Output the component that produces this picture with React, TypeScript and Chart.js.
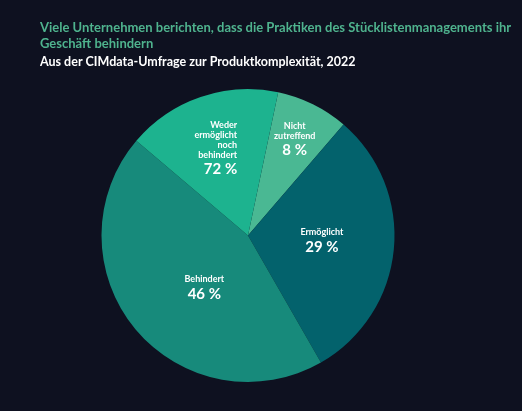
import React, { useEffect, useRef } from "react";
import { Chart, registerables } from "chart.js";

Chart.register(...registerables);

const categories = ["Nicht zutreffend", "Ermöglicht", "Behindert", "Weder ermöglicht noch behindert"];
const values = [8, 30.4, 44.5, 17.1];
const labelLines = [["Nicht", "zutreffend"], ["Ermöglicht"], ["Behindert"], ["Weder", "ermöglicht", "noch", "behindert"]];
const percentTexts = ["8 %", "29 %", "46 %", "72 %"];
const titleLines = [
  "Viele Unternehmen berichten, dass die Praktiken des Stücklistenmanagements ihr",
  "Geschäft behindern",
];
const subtitleText = "Aus der CIMdata-Umfrage zur Produktkomplexität, 2022";

const colors = ["#4ab893", "#03626c", "#178a7b", "#1db38f"];
const labelPlacement = [
  { f: 0.75, dx: -2, dy: 1, align: "center" },
  { f: 0.5, dx: 1, dy: -3, align: "center" },
  { f: 0.45, dx: 7, dy: 9, align: "center" },
  { f: 0.65, dx: 20, dy: 2, align: "right" },
];
const FONT = "Lato, 'Noto Sans', sans-serif";

const sliceLabels = {
  id: "sliceLabels",
  afterDatasetsDraw(chart: any) {
    const ctx = chart.ctx;
    const meta = chart.getDatasetMeta(0);
    meta.data.forEach((arc: any, i: number) => {
      const { x, y, startAngle, endAngle, outerRadius } = arc.getProps(
        ["x", "y", "startAngle", "endAngle", "outerRadius"],
        true
      );
      const p = labelPlacement[i];
      const mid = (startAngle + endAngle) / 2;
      const cx = x + Math.cos(mid) * outerRadius * p.f + p.dx;
      const cy = y + Math.sin(mid) * outerRadius * p.f + p.dy;
      const lines = labelLines[i];
      const span = (lines.length - 1) * 10 + 14.5;
      const ly = cy - span / 2;
      ctx.save();
      ctx.fillStyle = "#ffffff";
      ctx.textAlign = p.align as CanvasTextAlign;
      ctx.textBaseline = "middle";
      ctx.font = `bold 9px ${FONT}`;
      lines.forEach((t, k) => {
        ctx.fillText(t, cx, ly + k * 10);
      });
      ctx.font = `bold 15px ${FONT}`;
      ctx.fillText(percentTexts[i], cx, cy + span / 2);
      ctx.restore();
    });
  },
};

const headerText = {
  id: "headerText",
  afterDraw(chart: any) {
    const ctx = chart.ctx;
    ctx.save();
    ctx.textAlign = "left";
    ctx.textBaseline = "alphabetic";
    ctx.font = `bold 13px ${FONT}`;
    ctx.fillStyle = "#4fb38e";
    titleLines.forEach((t, k) => ctx.fillText(t, 40, 31.5 + k * 16.7));
    ctx.font = `bold 12.5px ${FONT}`;
    ctx.fillStyle = "#ffffff";
    ctx.fillText(subtitleText, 40, 65.7);
    ctx.restore();
  },
};

export default function App() {
  const ref = useRef<HTMLCanvasElement>(null);
  useEffect(() => {
    document.body.style.margin = "0";
    const chart = new Chart(ref.current!, {
      type: "pie",
      data: {
        labels: categories,
        datasets: [
          {
            data: values,
            backgroundColor: colors,
            borderWidth: 0,
          },
        ],
      },
      options: {
        animation: false,
        responsive: false,
        rotation: 11.9,
        layout: { padding: { left: 101, right: 127, top: 89, bottom: 29 } },
        plugins: {
          legend: { display: false },
          tooltip: { enabled: false },
        },
      },
      plugins: [sliceLabels, headerText],
    });
    return () => chart.destroy();
  }, []);
  return (
    <div
      style={{
        position: "relative",
        width: 522,
        height: 411,
        background: "#0e1120",
        overflow: "hidden",
      }}
    >
      <canvas ref={ref} width={522} height={411} style={{ position: "absolute", left: 0, top: 0 }} />
    </div>
  );
}
